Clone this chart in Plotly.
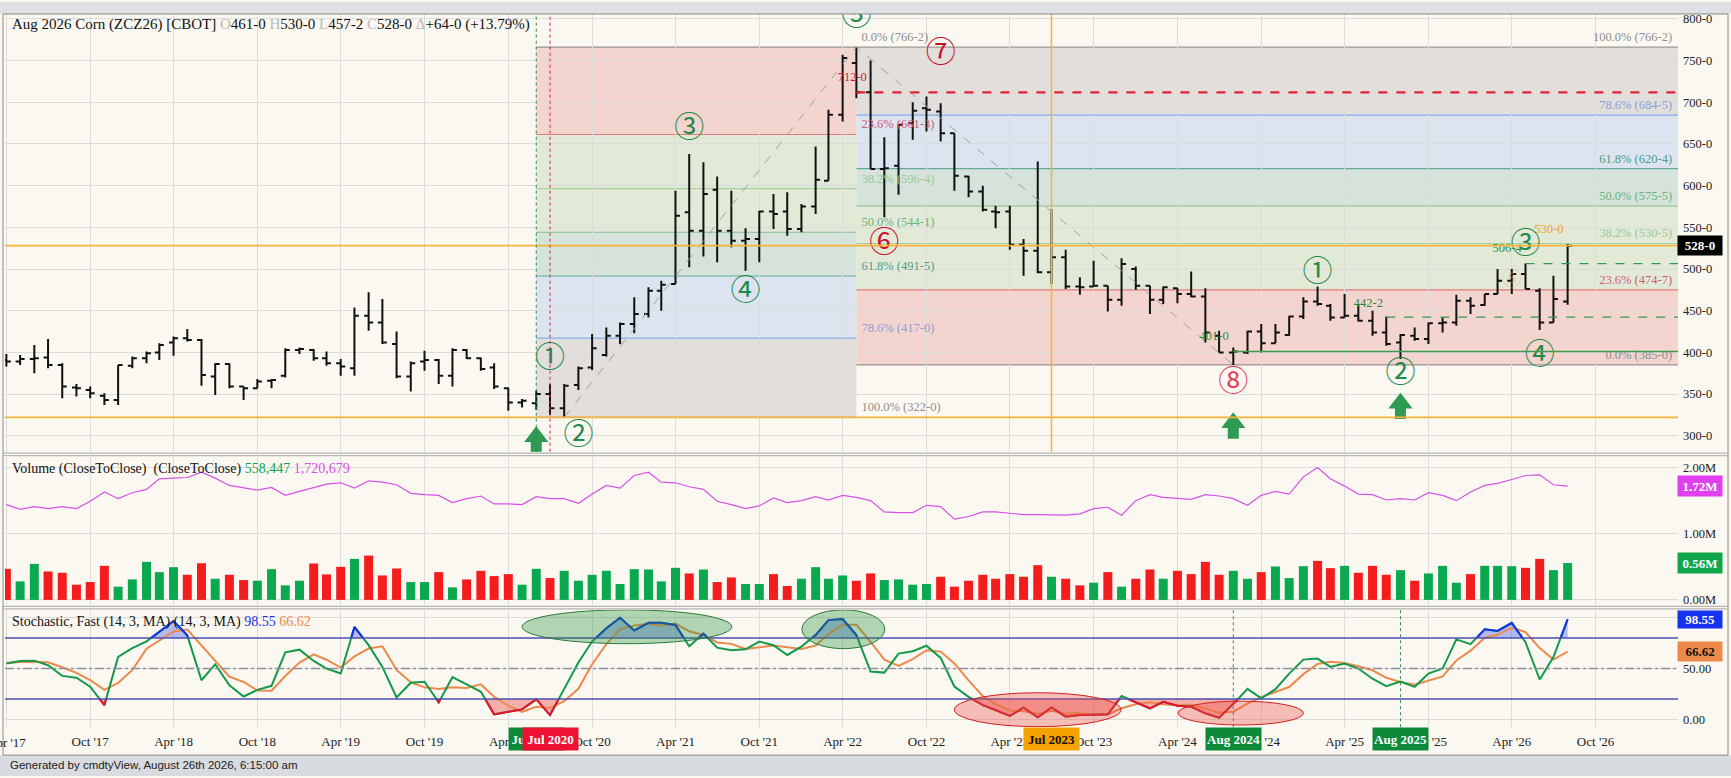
import numpy as np
import pandas as pd
import plotly.graph_objects as go

#-----------------------------------
# monthly bars, Apr 2017 .. Aug 2026

months = pd.date_range('2017-04-01', '2026-08-01', freq='MS')

bar_open = [391, 389, 392, 394, 385, 358, 355, 348, 343, 384,
            393, 400, 412, 417, 415, 371, 386, 359, 357, 366,
            372, 403, 403, 393, 387, 381, 444, 436, 410, 371,
            389, 391, 372, 403, 393, 382, 357, 340, 339, 350,
            333, 361, 382, 397, 420, 434, 446, 474, 482, 568,
            546, 595, 546, 534, 536, 569, 569, 548, 575, 606,
            685, 747, 712, 620, 624, 675, 693, 689, 663, 611,
            593, 569, 569, 529, 522, 496, 514, 479, 479, 480,
            463, 500, 480, 463, 477, 470, 467, 420, 400, 400,
            425, 411, 421, 443, 461, 456, 442, 444, 438, 424,
            412, 420, 416, 435, 436, 462, 457, 470, 486, 494,
            474, 436, 461]
bar_high = [398, 397, 409, 416, 387, 362, 359, 351, 385, 395,
            401, 411, 419, 428, 416, 387, 387, 359, 368, 368,
            405, 406, 404, 401, 392, 454, 472, 464, 425, 389,
            402, 392, 405, 404, 394, 387, 358, 344, 354, 362,
            362, 383, 422, 430, 436, 466, 478, 486, 594, 638,
            628, 611, 594, 549, 570, 590, 592, 578, 647, 691,
            757, 766.25, 750, 658, 673, 700, 707, 699, 663, 612,
            600, 576, 576, 536, 629, 572, 523, 490, 510, 480,
            513, 503, 480, 479, 477, 497, 477, 426, 406, 426,
            434, 434, 444, 466, 479, 458, 470, 458, 450, 443,
            422, 430, 436, 442, 469, 466, 470, 500, 500, 506.5,
            477, 492, 530]
bar_low = [383, 385, 375, 381, 345, 347, 345, 337, 337, 381,
           387, 391, 396, 413, 360, 349, 357, 343, 357, 357,
           370, 398, 390, 384, 372, 372, 426, 410, 369, 353,
           378, 362, 359, 392, 378, 356, 330, 334, 331, 325,
           322, 355, 379, 395, 410, 423, 442, 450, 482, 502,
           515, 508, 526, 498, 508, 548, 540, 544, 566, 606,
           677, 705, 620, 562, 589, 655, 665, 653, 594, 586,
           569, 549, 523, 492, 495, 482, 476, 469, 479, 449,
           456, 475, 446, 458, 459, 466, 412, 400, 385, 398,
           400, 411, 420, 440, 456, 438, 442, 437, 420, 408,
           392, 414, 410, 424, 432, 446, 456, 470, 470, 476,
           427, 436, 457.25]
bar_close = [389, 392, 393, 385, 359, 357, 351, 343, 385, 393,
             399, 409, 417, 415, 373, 386, 359, 357, 365, 367,
             403, 404, 393, 387, 383, 444, 436, 412, 371, 387,
             391, 372, 403, 393, 380, 359, 340, 342, 350, 333,
             360, 381, 405, 420, 434, 446, 474, 481, 564, 546,
             590, 546, 534, 536, 569, 566, 548, 575, 607, 685,
             753, 712, 620, 621, 673, 690, 691, 663, 612, 593,
             571, 568, 529, 522, 496, 514, 479, 478, 480, 463,
             506, 480, 463, 478, 470, 467, 424, 400, 401, 425,
             411, 424, 443, 461, 458, 442, 444, 438, 424, 410,
             421, 416, 435, 436, 462, 456, 470, 486, 494, 476,
             436, 464, 528]

# volume and open interest, millions of contracts
volume_m = [0.47, 0.28, 0.545, 0.43, 0.41, 0.23, 0.27, 0.515, 0.20, 0.31,
            0.575, 0.42, 0.495, 0.38, 0.555, 0.32, 0.38, 0.30, 0.29, 0.465,
            0.22, 0.29, 0.55, 0.385, 0.50, 0.62, 0.67, 0.37, 0.475, 0.27,
            0.27, 0.42, 0.19, 0.31, 0.44, 0.36, 0.39, 0.23, 0.47, 0.33,
            0.44, 0.29, 0.38, 0.44, 0.24, 0.465, 0.46, 0.28, 0.485, 0.40,
            0.46, 0.27, 0.34, 0.24, 0.24, 0.39, 0.21, 0.32, 0.495, 0.32,
            0.37, 0.29, 0.40, 0.30, 0.31, 0.23, 0.24, 0.35, 0.20, 0.29,
            0.38, 0.32, 0.39, 0.35, 0.525, 0.35, 0.32, 0.22, 0.26, 0.42,
            0.20, 0.32, 0.46, 0.32, 0.44, 0.39, 0.575, 0.38, 0.44, 0.32,
            0.42, 0.505, 0.33, 0.51, 0.59, 0.48, 0.515, 0.41, 0.515, 0.38,
            0.45, 0.29, 0.40, 0.515, 0.26, 0.39, 0.515, 0.515, 0.51, 0.485,
            0.62, 0.45, 0.558447]
open_int_m = [1.44, 1.37, 1.41, 1.38, 1.41, 1.38, 1.49, 1.63, 1.53, 1.62,
              1.67, 1.83, 1.84, 1.85, 1.93, 1.84, 1.73, 1.69, 1.66, 1.70,
              1.58, 1.64, 1.70, 1.75, 1.77, 1.69, 1.80, 1.78, 1.74, 1.61,
              1.59, 1.58, 1.47, 1.53, 1.57, 1.45, 1.45, 1.44, 1.56, 1.53,
              1.53, 1.46, 1.60, 1.73, 1.69, 1.88, 1.93, 1.78, 1.77, 1.71,
              1.67, 1.49, 1.44, 1.38, 1.42, 1.54, 1.47, 1.50, 1.56, 1.51,
              1.58, 1.55, 1.50, 1.33, 1.32, 1.32, 1.43, 1.41, 1.22, 1.26,
              1.33, 1.33, 1.31, 1.29, 1.29, 1.28, 1.28, 1.30, 1.38, 1.40,
              1.28, 1.50, 1.59, 1.55, 1.54, 1.52, 1.59, 1.57, 1.53, 1.43,
              1.58, 1.64, 1.60, 1.86, 2.00, 1.83, 1.72, 1.60, 1.59, 1.51,
              1.53, 1.51, 1.62, 1.58, 1.50, 1.63, 1.73, 1.76, 1.82, 1.88,
              1.89, 1.74, 1.720679]

# stochastic, fast %K and %D
stoch_k = [54.9, 57.5, 57.8, 53.3, 42.8, 41.0, 32.2, 14.0, 61.4, 70.2,
           76.8, 86.0, 96.8, 82.7, 38.5, 54.2, 33.6, 22.5, 29.0, 33.0,
           66.0, 68.6, 57.5, 50.0, 45.1, 91.0, 73.0, 51.6, 21.5, 36.0,
           37.0, 16.7, 41.5, 34.5, 27.1, 4.9, 7.5, 9.8, 19.6, 4.2,
           30.0, 56.0, 76.6, 89.7, 100.0, 87.5, 95.0, 95.0, 93.0, 72.0,
           84.4, 70.6, 68.0, 69.0, 76.5, 73.0, 63.4, 71.6, 83.0, 97.7,
           98.7, 83.0, 47.0, 46.0, 64.7, 67.0, 72.5, 60.5, 32.3, 22.2,
           14.0, 9.2, 3.3, 11.4, 2.0, 11.8, 2.6, 4.3, 4.9, 4.9,
           22.9, 16.6, 10.8, 17.3, 13.4, 12.4, 5.9, 1.6, 15.0, 30.0,
           20.6, 29.7, 45.0, 58.8, 59.8, 51.6, 54.9, 50.0, 40.0, 32.7,
           37.3, 32.0, 45.0, 50.0, 78.7, 74.0, 88.6, 87.0, 95.0, 76.0,
           39.2, 61.4, 98.55]
stoch_d = [55.5, 56.5, 56.7, 56.2, 51.3, 45.7, 38.7, 29.1, 35.9, 48.5,
           69.5, 77.7, 86.5, 88.5, 72.7, 58.5, 42.1, 36.8, 28.4, 28.2,
           42.7, 55.9, 64.0, 58.7, 50.9, 62.0, 69.7, 71.9, 48.7, 36.4,
           31.5, 29.9, 31.7, 30.9, 34.4, 22.2, 13.2, 7.4, 12.3, 11.2,
           17.9, 30.1, 54.2, 74.1, 88.8, 92.4, 94.2, 92.5, 94.3, 86.7,
           83.1, 75.7, 74.3, 69.2, 71.2, 72.8, 71.0, 69.3, 72.7, 84.1,
           93.1, 93.1, 76.2, 58.7, 52.6, 59.2, 68.1, 66.7, 55.1, 38.3,
           22.8, 15.1, 8.8, 8.0, 5.6, 8.4, 5.5, 6.2, 3.9, 4.7,
           10.9, 14.8, 16.8, 14.9, 13.8, 14.4, 10.6, 6.6, 7.5, 15.5,
           21.9, 26.8, 31.8, 44.5, 54.5, 56.7, 55.4, 52.2, 48.3, 40.9,
           36.7, 34.0, 38.1, 42.3, 57.9, 67.6, 80.4, 83.2, 90.2, 86.0,
           70.1, 58.9, 66.62]

#-----------------------------------
# drawing tools on the price panel

fib_ratios = ['0.0%', '23.6%', '38.2%', '50.0%', '61.8%', '78.6%', '100.0%']
fib1_levels = [766.25, 661.375, 596.5, 544.125, 491.625, 417.0, 322.0]
fib2_levels = [385.0, 474.875, 530.625, 575.625, 620.5, 684.625, 766.25]
fib1_start, fib2_start = '2020-06-01', '2022-05-01'

swing_dates = ['2020-08-01', '2022-05-01', '2024-08-01']
swing_prices = [322.0, 766.25, 385.0]

wave_text = ['①', '②', '③', '④', '⑤', '⑥', '⑦', '⑧', '①', '②', '③', '④']
wave_dates = ['2020-07-01', '2020-09-01', '2021-05-01', '2021-09-01', '2022-05-01',
              '2022-07-01', '2022-11-01', '2024-08-01', '2025-02-01', '2025-08-01',
              '2026-05-01', '2026-06-01']
wave_prices = [391.5, 299, 667.5, 472, 802, 530, 757, 363, 494.5, 373, 528, 395.5]
wave_kind = ['g', 'g', 'g', 'g', 'g', 'r', 'r', 'p', 'g', 'g', 'g', 'g']

tag_values = [712.0, 401.0, 442.25, 506.5, 530.0]
tag_dates = ['2022-04-22', '2024-06-20', '2025-05-23', '2026-03-22', '2026-06-21']
tag_prices = [729, 418.5, 458.7, 524.3, 547]
tag_colors = ['#d8173a', '#1f8f45', '#1f8f45', '#1f8f45', '#f0a020']

# level lines: price, start date (None = whole width)
level_prices = [528.0, 322.0, 712.0, 506.5, 442.25, 401.0]
level_starts = [None, None, '2022-05-01', '2026-05-01', '2025-07-01', '2024-08-01']

arrow_dates = ['2020-06-01', '2024-08-01', '2025-08-01']
arrow_tips = [310.7, 327.4, 351.0]

date_boxes = ['Jun 2020', 'Jul 2020', 'Jul 2023', 'Aug 2024', 'Aug 2025']
date_box_at = ['2020-06-01', '2020-07-01', '2023-07-01', '2024-08-01', '2025-08-01']
date_box_bg = ['#0c8a3a', '#ee1133', '#f5a300', '#0c8a3a', '#0c8a3a']
date_box_fg = ['white', 'white', '#111', 'white', 'white']

price_ticks = [300, 350, 400, 450, 500, 550, 600, 650, 700, 750, 800]

#-----------------------------------
# geometry / styling

W, H = 1731, 778
def fx(px): return px / W
def fy(px): return 1 - px / H

X_RANGE = ['2017-03-29', '2027-03-30']
PRICE_RANGE = [280.9, 806.0]
VOL_RANGE = [-0.075e6, 2.165e6]
STOCH_RANGE = [-7.8, 107.8]
PPX = (PRICE_RANGE[1] - PRICE_RANGE[0]) / (452 - 12)

SERIF = 'Liberation Serif, Times New Roman, serif'
CIRC = 'Noto Sans CJK JP'
BG = '#faf8f1'
GRID = '#dcdcdc'
GREEN = '#1f8a4c'
RED = '#c8102e'

band_fill = ['#f4d4ce', '#e2ead7', '#e2ead7', '#d5e3da', '#dce5ef', '#e1dedc']
level_line = ['#9c8f96', '#e07b7b', '#a9cf9f', '#86bd8e', '#62aa9c', '#86aee6', '#9a9a9a']
level_text = ['#8f8f8f', '#cc5c74', '#9cc79a', '#6fb27a', '#4f9a8a', '#8d9fd6', '#8f8f8f']


def quote(p):
    whole = int(p)
    return f'{whole}-{int(round((p - whole) * 8))}'


def past_level(dates, vals, level, above):
    # pieces of a line lying past `level`, cut where it crosses the level
    xs, ys = [dates[0]], [vals[0]]
    for j in range(1, len(vals)):
        a, b = vals[j - 1], vals[j]
        if (a - level) * (b - level) < 0:
            f = (level - a) / (b - a)
            xs.append(dates[j - 1] + (dates[j] - dates[j - 1]) * f)
            ys.append(level)
        xs.append(dates[j])
        ys.append(b)
    runs, cur = [], []
    for x, y in zip(xs, ys):
        if (y >= level) if above else (y <= level):
            cur.append((x, y))
        else:
            if len(cur) > 1:
                runs.append(cur)
            cur = []
    if len(cur) > 1:
        runs.append(cur)
    lx, ly, ax, ay = [], [], [], []
    for r in runs:
        rx = [p[0].strftime('%Y-%m-%d %H:%M') for p in r]
        ry = [p[1] for p in r]
        lx += rx + [None]
        ly += ry + [None]
        ax += rx + [rx[-1], rx[0], None]
        ay += ry + [level, level, None]
    return lx, ly, ax, ay


fig = go.Figure()
shapes = []
annotations = []

#-----------------------------------
# price panel

for start, end, levels in [(fib1_start, fib2_start, fib1_levels),
                           (fib2_start, X_RANGE[1], fib2_levels)]:
    for k in range(6):
        shapes.append(dict(type='rect', xref='x', yref='y', x0=start, x1=end,
                           y0=levels[k], y1=levels[k + 1], fillcolor=band_fill[k],
                           line_width=0, layer='below'))
    for k in range(7):
        shapes.append(dict(type='line', xref='x', yref='y', x0=start, x1=end,
                           y0=levels[k], y1=levels[k], layer='below',
                           line=dict(color=level_line[k], width=1.2)))

# fib labels
fig.add_trace(go.Scatter(
    x=['2022-05-12'] * 7, y=[v + 11 for v in fib1_levels], mode='text',
    text=[f'{r} ({quote(v)})' for r, v in zip(fib_ratios, fib1_levels)],
    textposition='middle right',
    textfont=dict(family=SERIF, size=12.5, color=level_text),
    xaxis='x', yaxis='y', hoverinfo='skip'))
fig.add_trace(go.Scatter(
    x=['2027-03-17'] * 7, y=[v + 11 for v in fib2_levels], mode='text',
    text=[f'{r} ({quote(v)})' for r, v in zip(fib_ratios, fib2_levels)],
    textposition='middle left',
    textfont=dict(family=SERIF, size=12.5, color=level_text),
    xaxis='x', yaxis='y', hoverinfo='skip'))

# swing lines
fig.add_trace(go.Scatter(x=swing_dates, y=swing_prices, mode='lines',
                         line=dict(color='#a0a0a0', width=1, dash='dash'),
                         xaxis='x', yaxis='y', hoverinfo='skip'))

# level lines
for p, s in zip(level_prices, level_starts):
    if s is None:
        col, dash, wid = '#f7b23b', 'solid', 1.8
    elif p == 712.0:
        col, dash, wid = '#e0203c', 'dash', 2.2
    elif p == 401.0:
        col, dash, wid = '#3d9a50', 'solid', 1.6
    else:
        col, dash, wid = '#2e9a4e', 'dash', 1.3
    shapes.append(dict(type='line', xref='x', yref='y',
                       x0=s if s else X_RANGE[0], x1=X_RANGE[1], y0=p, y1=p,
                       line=dict(color=col, width=wid, dash=dash), layer='above'))

# vertical markers
shapes.append(dict(type='line', xref='x', yref='y domain', x0='2020-06-01', x1='2020-06-01',
                   y0=0, y1=1, line=dict(color='#2e8b57', width=1, dash='dot')))
shapes.append(dict(type='line', xref='x', yref='y domain', x0='2020-07-01', x1='2020-07-01',
                   y0=0, y1=1, line=dict(color='#e02040', width=1, dash='dot')))
shapes.append(dict(type='line', xref='x', yref='y domain', x0='2023-07-01', x1='2023-07-01',
                   y0=0, y1=1, line=dict(color='#f7b23b', width=1.5)))

# price tags
fig.add_trace(go.Scatter(x=tag_dates, y=tag_prices, mode='text',
                         text=[quote(v) for v in tag_values],
                         textfont=dict(family=SERIF, size=12.5, color=tag_colors),
                         xaxis='x', yaxis='y', hoverinfo='skip'))

fig.add_trace(go.Ohlc(x=months, open=bar_open, high=bar_high, low=bar_low, close=bar_close,
                      increasing=dict(line=dict(color='#111', width=2)),
                      decreasing=dict(line=dict(color='#111', width=2)),
                      tickwidth=0.35, xaxis='x', yaxis='y', hoverinfo='skip'))

# wave counts
wave_col = {'g': GREEN, 'r': RED, 'p': '#e0405a'}
fig.add_trace(go.Scatter(x=wave_dates, y=wave_prices, mode='text', text=wave_text,
                         textfont=dict(family=CIRC, size=30,
                                       color=[wave_col[k] for k in wave_kind]),
                         xaxis='x', yaxis='y', hoverinfo='skip', cliponaxis=True))
fig.add_trace(go.Scatter(x=['2026-04-01'], y=[486], mode='text', text=['⑤'],
                         textfont=dict(family=CIRC, size=20, color='rgba(240,150,90,0.45)'),
                         xaxis='x', yaxis='y', hoverinfo='skip'))

# green arrows
stem_x, stem_y = [], []
for d, t in zip(arrow_dates, arrow_tips):
    stem_x += [d, d, None]
    stem_y += [t - 14 * PPX, t - 26 * PPX, None]
fig.add_trace(go.Scatter(x=stem_x, y=stem_y, mode='lines',
                         line=dict(color='#2f9a52', width=11),
                         xaxis='x', yaxis='y', hoverinfo='skip'))
fig.add_trace(go.Scatter(x=arrow_dates, y=[t - 10 * PPX for t in arrow_tips], mode='markers',
                         marker=dict(symbol='triangle-up', size=21, color='#2f9a52',
                                     line=dict(width=0)),
                         xaxis='x', yaxis='y', hoverinfo='skip'))

#-----------------------------------
# volume panel

volume = [round(v * 1e6) for v in volume_m]
open_int = [round(v * 1e6) for v in open_int_m]
vol_colors = ['#f41c1c'] + ['#0aa84f' if c >= p else '#f41c1c'
                            for p, c in zip(bar_close[:-1], bar_close[1:])]

fig.add_trace(go.Bar(x=months, y=volume, marker=dict(color=vol_colors, line=dict(width=0)),
                     width=19.6 * 86400000, xaxis='x2', yaxis='y2', hoverinfo='skip'))
fig.add_trace(go.Scatter(x=months, y=open_int, mode='lines',
                         line=dict(color='#d651e6', width=1.2),
                         xaxis='x2', yaxis='y2', hoverinfo='skip'))

#-----------------------------------
# stochastic panel

dates = list(months)
ux, uy, ufx, ufy = past_level(dates, stoch_k, 80, True)
dx, dy, dfx, dfy = past_level(dates, stoch_k, 20, False)

fig.add_trace(go.Scatter(x=ufx, y=ufy, mode='none', fill='toself',
                         fillcolor='rgba(90,110,235,0.45)', xaxis='x3', yaxis='y3', hoverinfo='skip'))
fig.add_trace(go.Scatter(x=dfx, y=dfy, mode='none', fill='toself',
                         fillcolor='rgba(240,85,85,0.45)', xaxis='x3', yaxis='y3', hoverinfo='skip'))
fig.add_trace(go.Scatter(x=months, y=stoch_d, mode='lines', line=dict(color='#ec8a4c', width=2),
                         xaxis='x3', yaxis='y3', hoverinfo='skip'))
fig.add_trace(go.Scatter(x=months, y=stoch_k, mode='lines', line=dict(color='#13994a', width=2),
                         xaxis='x3', yaxis='y3', hoverinfo='skip'))
fig.add_trace(go.Scatter(x=ux, y=uy, mode='lines', line=dict(color='#1530e8', width=2),
                         xaxis='x3', yaxis='y3', hoverinfo='skip'))
fig.add_trace(go.Scatter(x=dx, y=dy, mode='lines', line=dict(color='#ea1030', width=2),
                         xaxis='x3', yaxis='y3', hoverinfo='skip'))

for lvl, col, dash in [(80, '#4b4fb0', 'solid'), (20, '#4b4fb0', 'solid'), (50, '#8e8e9e', 'dashdot')]:
    shapes.append(dict(type='line', xref='x3 domain', yref='y3', x0=0, x1=1, y0=lvl, y1=lvl,
                       line=dict(color=col, width=1.5, dash=dash)))

for d in ['2024-08-01', '2025-08-01']:
    shapes.append(dict(type='line', xref='x3', yref='y3 domain', x0=d, x1=d, y0=0, y1=1,
                       line=dict(color='#2e8b57', width=1, dash='dot')))

# highlight ellipses
for x0, x1, y0, y1, fill, edge in [
        ('2020-05-01', '2021-08-02', 74.5, 107.8, 'rgba(40,150,60,0.35)', '#2a7a3a'),
        ('2022-01-02', '2022-07-02', 69.6, 107.8, 'rgba(40,150,60,0.35)', '#2a7a3a'),
        ('2022-12-01', '2023-11-30', -7.2, 26.2, 'rgba(235,80,70,0.35)', '#d02020'),
        ('2024-04-02', '2025-01-01', -5.6, 17.9, 'rgba(235,80,70,0.35)', '#d02020')]:
    shapes.append(dict(type='circle', xref='x3', yref='y3', x0=x0, x1=x1, y0=y0, y1=y1,
                       fillcolor=fill, line=dict(color=edge, width=1), layer='above'))

#-----------------------------------
# frame, separators, headers

shapes.append(dict(type='rect', xref='paper', yref='paper', x0=0, x1=1, y0=fy(12), y1=1,
                   fillcolor='#dde0e4', line_width=0, layer='above'))
shapes.append(dict(type='rect', xref='paper', yref='paper', x0=0, x1=1, y0=0, y1=fy(757),
                   fillcolor='#d8dbdf', line_width=0, layer='above'))
shapes.append(dict(type='rect', xref='paper', yref='paper', x0=fx(3), x1=fx(1728),
                   y0=fy(757), y1=fy(12), line=dict(color='#8a8a8a', width=1), layer='above'))
for py in [453.5, 456, 607.5, 610]:
    shapes.append(dict(type='line', xref='paper', yref='paper', x0=fx(3), x1=fx(1728),
                       y0=fy(py), y1=fy(py), line=dict(color='#b5b5b5', width=1.4)))

grey = "<span style='color:#b8b8b8'>"
chg = bar_close[-1] - bar_close[-2]
title = (f"Aug 2026 Corn (ZCZ26) [CBOT] {grey}O</span>{quote(bar_open[-1])} "
         f"{grey}H</span>{quote(bar_high[-1])} {grey}L</span>{quote(bar_low[-1])} "
         f"{grey}C</span>{quote(bar_close[-1])} {grey}Δ</span>+{quote(chg)} "
         f"(+{chg / bar_close[-2] * 100:.2f}%)")
annotations.append(dict(xref='paper', yref='paper', x=fx(10), y=fy(23), text=title,
                        xanchor='left', yanchor='middle', showarrow=False,
                        font=dict(family=SERIF, size=15, color='#111')))
annotations.append(dict(xref='paper', yref='paper', x=fx(10), y=fy(469),
                        text=(f"Volume (CloseToClose)  (CloseToClose) "
                              f"<span style='color:#10a050'>{volume[-1]:,}</span> "
                              f"<span style='color:#d651e6'>{open_int[-1]:,}</span>"),
                        xanchor='left', yanchor='middle', showarrow=False,
                        font=dict(family=SERIF, size=14, color='#111')))
annotations.append(dict(xref='paper', yref='paper', x=fx(10), y=fy(623),
                        text=(f"Stochastic, Fast (14, 3, MA) (14, 3, MA) "
                              f"<span style='color:#1530e8'>{stoch_k[-1]:.2f}</span> "
                              f"<span style='color:#ec8a4c'>{stoch_d[-1]:.2f}</span>"),
                        xanchor='left', yanchor='middle', showarrow=False,
                        font=dict(family=SERIF, size=14, color='#111')))
annotations.append(dict(xref='paper', yref='paper', x=fx(8), y=fy(767),
                        text='Generated by cmdtyView, August 26th 2026, 6:15:00 am',
                        xanchor='left', yanchor='middle', showarrow=False,
                        font=dict(family='Liberation Sans, Arial, sans-serif', size=11.5,
                                  color='#222')))
# the first time label, half off the left edge
annotations.append(dict(xref='x3', yref='paper', x='2017-04-01', y=fy(744), text="Apr '17",
                        xanchor='center', yanchor='middle', showarrow=False,
                        font=dict(family=SERIF, size=13, color='#222')))

# last value boxes on the right axes
for yref, val, txt, bg, fg, h in [
        ('y', bar_close[-1], quote(bar_close[-1]), '#000000', 'white', 19),
        ('y2', open_int[-1], f'{open_int[-1] / 1e6:.2f}M', '#e040ee', 'white', 20),
        ('y2', volume[-1], f'{volume[-1] / 1e6:.2f}M', '#11a54c', 'white', 20),
        ('y3', stoch_k[-1], f'{stoch_k[-1]:.2f}', '#1533ee', 'white', 17),
        ('y3', stoch_d[-1], f'{stoch_d[-1]:.2f}', '#ec8a4c', '#111', 19)]:
    annotations.append(dict(xref='paper', yref=yref, x=fx(1677), y=val, text=f'<b>{txt}</b>',
                            xanchor='left', yanchor='middle', showarrow=False,
                            bgcolor=bg, width=44, height=h, borderpad=0,
                            font=dict(family=SERIF, size=13, color=fg)))

# date boxes on the time axis
for txt, d, bg, fg in zip(date_boxes, date_box_at, date_box_bg, date_box_fg):
    annotations.append(dict(xref='x3', yref='paper', x=d, y=fy(741), text=f'<b>{txt}</b>',
                            xanchor='center', yanchor='middle', showarrow=False,
                            bgcolor=bg, width=55, height=22, borderpad=0,
                            font=dict(family=SERIF, size=13, color=fg)))

#-----------------------------------
# axes

xcommon = dict(type='date', range=X_RANGE, domain=[fx(5), fx(1678)], showgrid=True,
               gridcolor=GRID, gridwidth=1, dtick='M6', tick0='2017-04-01',
               tickformat="%b '%y", showline=False, zeroline=False, ticks='')
ycommon = dict(side='right', showgrid=True, gridcolor=GRID, gridwidth=1, zeroline=False,
               showline=False, ticks='', ticklabelstandoff=4,
               tickfont=dict(family=SERIF, size=12.5, color='#222'))

fig.update_layout(
    width=W, height=H,
    margin=dict(l=0, r=0, t=0, b=0),
    paper_bgcolor=BG, plot_bgcolor=BG,
    showlegend=False,
    xaxis=dict(xcommon, anchor='y', showticklabels=False, rangeslider=dict(visible=False)),
    xaxis2=dict(xcommon, anchor='y2', matches='x', showticklabels=False),
    xaxis3=dict(xcommon, anchor='y3', matches='x', showticklabels=True, ticklabelstandoff=5,
                tickfont=dict(family=SERIF, size=13, color='#222')),
    yaxis=dict(ycommon, anchor='x', domain=[fy(452), fy(12)], range=PRICE_RANGE,
               tickvals=price_ticks, ticktext=[quote(v) for v in price_ticks]),
    yaxis2=dict(ycommon, anchor='x2', domain=[fy(606), fy(457)], range=VOL_RANGE,
                tickvals=[0, 1e6, 2e6], ticktext=['0.00M', '1.00M', '2.00M']),
    yaxis3=dict(ycommon, anchor='x3', domain=[fy(729), fy(611)], range=STOCH_RANGE,
                tickvals=[0, 50, 100], ticktext=['0.00', '50.00', '100.00']),
    shapes=shapes,
    annotations=annotations,
)

# page margin off so the figure fills the window exactly
fig.write_html("out.html", config={'displayModeBar': False},
               post_script="document.body.style.margin='0';document.body.style.overflow='hidden';")
